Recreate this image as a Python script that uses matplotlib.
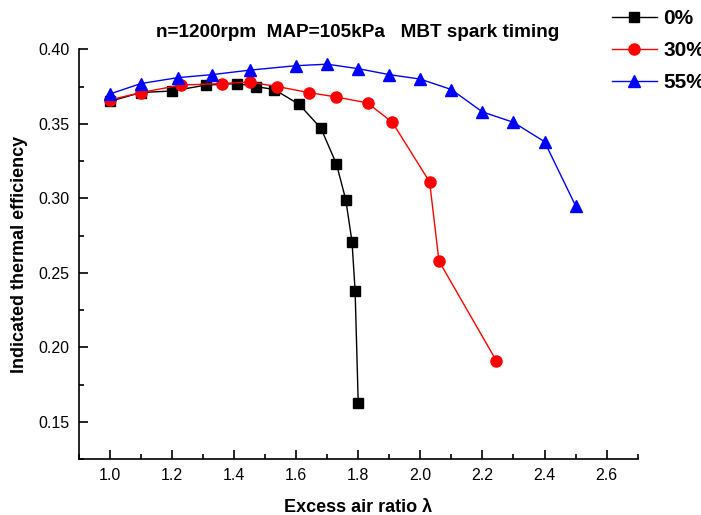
import matplotlib
matplotlib.use("Agg")
import matplotlib.pyplot as plt

plt.rcParams['font.family'] = ['Liberation Sans', 'DejaVu Sans']

# excess air ratio / efficiency
lam_0 = [1.0, 1.1, 1.2, 1.31, 1.41, 1.47, 1.53, 1.61, 1.68, 1.73, 1.76, 1.78, 1.79, 1.80]
eff_0 = [0.365, 0.371, 0.372, 0.376, 0.377, 0.375, 0.373, 0.363, 0.347, 0.323,
         0.299, 0.271, 0.238, 0.163]

lam_30 = [1.0, 1.1, 1.23, 1.36, 1.45, 1.54, 1.64, 1.73, 1.83, 1.91, 2.03, 2.06, 2.245]
eff_30 = [0.366, 0.371, 0.376, 0.377, 0.378, 0.375, 0.371, 0.368, 0.364, 0.351,
          0.311, 0.258, 0.191]

lam_55 = [1.0, 1.1, 1.22, 1.33, 1.45, 1.60, 1.70, 1.80, 1.90, 2.0, 2.1, 2.2, 2.3, 2.4, 2.5]
eff_55 = [0.370, 0.377, 0.381, 0.383, 0.386, 0.389, 0.390, 0.387, 0.383, 0.380,
          0.373, 0.358, 0.351, 0.338, 0.295]

labels = ['0%', '30%', '55%']
x_ticks = [1.0, 1.2, 1.4, 1.6, 1.8, 2.0, 2.2, 2.4, 2.6]
y_ticks = [0.15, 0.20, 0.25, 0.30, 0.35, 0.40]

fig = plt.figure(figsize=(7.01, 5.15), dpi=100)
ax = fig.add_axes([0.1123, 0.1082, 0.7974, 0.7961])

ax.plot(lam_0, eff_0, color='black', marker='s', markersize=7, lw=1, label=labels[0])
ax.plot(lam_30, eff_30, color='red', marker='o', markersize=8, lw=1, label=labels[1])
ax.plot(lam_55, eff_55, color='blue', marker='^', markersize=9, lw=1, label=labels[2])

ax.set_xlim(0.9, 2.7)
ax.set_ylim(0.125, 0.40)
ax.set_xticks(x_ticks)
ax.set_yticks(y_ticks)
ax.set_xticks([0.9 + 0.1 * i for i in range(19)], minor=True)
ax.set_yticks([0.125 + 0.025 * i for i in range(12)], minor=True)
ax.xaxis.set_major_formatter(matplotlib.ticker.FormatStrFormatter('%.1f'))
ax.yaxis.set_major_formatter(matplotlib.ticker.FormatStrFormatter('%.2f'))

# only left and bottom axes, ticks pointing inward
ax.spines['top'].set_visible(False)
ax.spines['right'].set_visible(False)
for s in ['left', 'bottom']:
    ax.spines[s].set_linewidth(1.2)
ax.tick_params(which='major', direction='in', length=6.5, width=1.2,
               labelsize=11.5, pad=6.5)
ax.tick_params(which='minor', direction='in', length=3.6, width=1.2)

ax.set_xlabel('Excess air ratio λ', fontsize=13, fontweight='bold')
ax.set_ylabel('Indicated thermal efficiency', fontsize=13, fontweight='bold')
ax.xaxis.set_label_coords(0.5, -0.097)
ax.yaxis.set_label_coords(-0.091, 0.5)

fig.text(0.51, 0.936, 'n=1200rpm  MAP=105kPa   MBT spark timing',
         ha='center', va='center', fontsize=13.6, fontweight='bold')

ax.legend(loc='upper left', bbox_to_anchor=(0.873, 0.982),
          bbox_transform=fig.transFigure, frameon=False,
          borderaxespad=0, borderpad=0, handlelength=2.15, handletextpad=0.3,
          labelspacing=0.62, prop={'size': 15, 'weight': 'bold'})

fig.savefig('out.png', dpi=100)
